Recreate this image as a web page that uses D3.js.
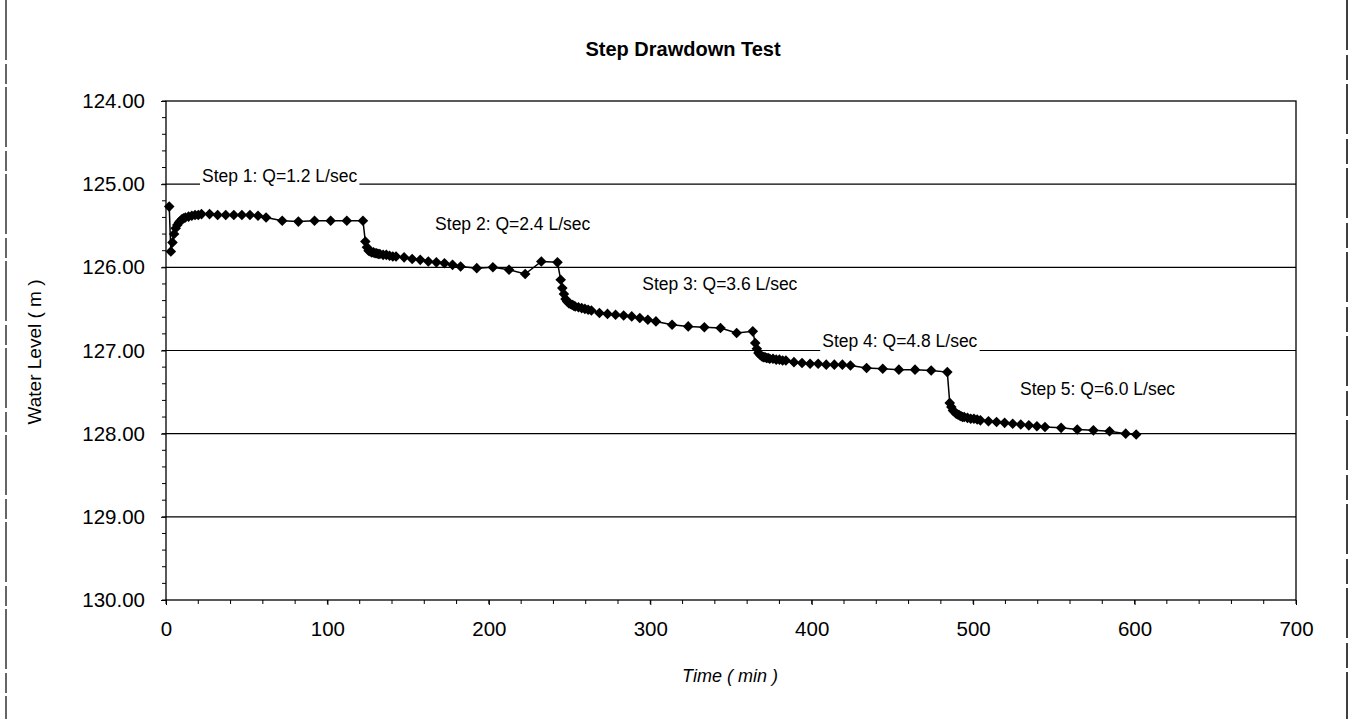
<!DOCTYPE html>
<html>
<head>
<meta charset="utf-8">
<script src="https://cdn.jsdelivr.net/npm/d3@7"></script>
<style>
  html, body { margin: 0; padding: 0; background: #fff; }
  svg { display: block; font-family: "Liberation Sans", Arial, sans-serif; }
</style>
</head>
<body>
<svg id="chart" width="1356" height="719"></svg>
<script>
// ---------------- data ----------------
const chartTitle = "Step Drawdown Test";
const xAxisTitle = "Time ( min )";
const yAxisTitle = "Water Level ( m )";

const xTickValues = [0, 100, 200, 300, 400, 500, 600, 700];
const yTickValues = [124, 125, 126, 127, 128, 129, 130];

// time (min) of each reading
const timeMin = [
  2, 3, 4, 5, 6, 7, 8, 9, 10, 11, 12, 14, 16, 18, 20, 22, 27, 32, 37, 42, 47, 52, 57, 62, 72, 82, 92, 102, 112, 122,
  123.5, 124.5, 125.5, 126.5, 127.5, 128.5, 129.5, 130.5, 131.5, 132.5, 134.5, 136.5, 138.5, 140.5, 142.5, 147.5, 152.5, 157.5, 162.5, 167.5, 172.5, 177.5, 182.5, 192.5, 202.5, 212.5, 222.5, 232.5, 242.5,
  244.5, 245.5, 246.5, 247.5, 248.5, 249.5, 250.5, 251.5, 252.5, 253.5, 255.5, 257.5, 259.5, 261.5, 263.5, 268.5, 273.5, 278.5, 283.5, 288.5, 293.5, 298.5, 303.5, 313.5, 323.5, 333.5, 343.5, 353.5, 363.5,
  365, 366, 367, 368, 369, 370, 371, 372, 373, 374, 376, 378, 380, 382, 384, 389, 394, 399, 404, 409, 414, 419, 424, 434, 444, 454, 464, 474, 484,
  485.5, 486.5, 487.5, 488.5, 489.5, 490.5, 491.5, 492.5, 493.5, 494.5, 496.5, 498.5, 500.5, 502.5, 504.5, 509.5, 514.5, 519.5, 524.5, 529.5, 534.5, 539.5, 544.5, 554.5, 564.5, 574.5, 584.5, 594.5, 601
];

// water level (m) of each reading
const waterLevel = [
  125.27, 125.81, 125.70, 125.60, 125.53, 125.49, 125.46, 125.44, 125.42, 125.41, 125.40, 125.39, 125.38, 125.37, 125.37, 125.36, 125.36, 125.37, 125.37, 125.37, 125.37, 125.37, 125.38, 125.40, 125.44, 125.45, 125.44, 125.44, 125.44, 125.44,
  125.69, 125.76, 125.80, 125.81, 125.82, 125.82, 125.83, 125.83, 125.84, 125.84, 125.85, 125.85, 125.86, 125.87, 125.87, 125.88, 125.90, 125.91, 125.93, 125.94, 125.95, 125.97, 125.99, 126.01, 126.00, 126.03, 126.08, 125.93, 125.94,
  126.15, 126.25, 126.32, 126.38, 126.41, 126.43, 126.44, 126.45, 126.46, 126.47, 126.48, 126.49, 126.50, 126.51, 126.52, 126.55, 126.56, 126.57, 126.58, 126.59, 126.61, 126.63, 126.65, 126.69, 126.71, 126.72, 126.73, 126.79, 126.77,
  126.91, 126.98, 127.03, 127.05, 127.07, 127.08, 127.08, 127.09, 127.09, 127.10, 127.10, 127.11, 127.11, 127.12, 127.12, 127.14, 127.15, 127.16, 127.16, 127.17, 127.17, 127.17, 127.18, 127.21, 127.22, 127.23, 127.23, 127.24, 127.26,
  127.63, 127.68, 127.72, 127.74, 127.76, 127.77, 127.78, 127.79, 127.80, 127.80, 127.81, 127.82, 127.82, 127.83, 127.84, 127.85, 127.86, 127.87, 127.88, 127.89, 127.90, 127.91, 127.92, 127.93, 127.95, 127.96, 127.97, 128.00, 128.01
];

// step annotations, anchored in data units (time, level of text baseline)
const stepLabels = ["Step 1: Q=1.2 L/sec", "Step 2: Q=2.4 L/sec", "Step 3: Q=3.6 L/sec", "Step 4: Q=4.8 L/sec", "Step 5: Q=6.0 L/sec"];
const stepLabelTime = [22.3, 166.7, 295, 406.5, 529];
const stepLabelLevel = [124.97, 125.55, 126.27, 126.96, 127.53];

// ---------------- layout ----------------
const svg = d3.select("#chart");
const plot = { left: 166, right: 1296, top: 101, bottom: 600 };

const x = d3.scaleLinear().domain([0, 700]).range([plot.left, plot.right]);
const y = d3.scaleLinear().domain([124, 130]).range([plot.top, plot.bottom]);

// outer scanned frame (left & right edges)
svg.append("line").attr("x1", 6).attr("x2", 6).attr("y1", 0).attr("y2", 719)
  .attr("stroke", "#000").attr("stroke-width", 1.2).attr("stroke-dasharray", "60,4,20,3");
svg.append("line").attr("x1", 1347).attr("x2", 1347).attr("y1", 0).attr("y2", 719)
  .attr("stroke", "#000").attr("stroke-width", 1.5).attr("stroke-dasharray", "50,5,25,4");

// title
svg.append("text").attr("x", 683).attr("y", 56).attr("text-anchor", "middle")
  .attr("font-size", 20).attr("font-weight", "bold").text(chartTitle);

// gridlines
svg.append("g").selectAll("line").data(yTickValues.filter(v => v > 124 && v < 130)).join("line")
  .attr("x1", plot.left).attr("x2", plot.right)
  .attr("y1", d => y(d)).attr("y2", d => y(d))
  .attr("stroke", "#000").attr("stroke-width", 1.2);

// plot frame
svg.append("rect").attr("x", plot.left).attr("y", plot.top)
  .attr("width", plot.right - plot.left).attr("height", plot.bottom - plot.top)
  .attr("fill", "none").attr("stroke", "#000").attr("stroke-width", 1.3);

// y axis
const yAxis = d3.axisLeft(y).tickValues(yTickValues).tickFormat(d3.format(".2f")).tickSize(5).tickPadding(16);
const gy = svg.append("g").attr("transform", `translate(${plot.left},0)`).call(yAxis);
gy.select(".domain").remove();
gy.selectAll("text").attr("font-size", 20.5).attr("fill", "#000").attr("font-family", "Liberation Sans, Arial, sans-serif");
gy.selectAll("line").attr("stroke", "#000");
const yMinor = d3.range(124, 130.001, 0.2);
svg.append("g").selectAll("line").data(yMinor).join("line")
  .attr("x1", plot.left - 4).attr("x2", plot.left)
  .attr("y1", d => y(d)).attr("y2", d => y(d)).attr("stroke", "#000");

// x axis
const xAxis = d3.axisBottom(x).tickValues(xTickValues).tickFormat(d3.format("d")).tickSize(5).tickPadding(16);
const gx = svg.append("g").attr("transform", `translate(0,${plot.bottom})`).call(xAxis);
gx.select(".domain").remove();
gx.selectAll("text").attr("font-size", 20.5).attr("fill", "#000").attr("font-family", "Liberation Sans, Arial, sans-serif");
gx.selectAll("line").attr("stroke", "#000");
const xMinor = d3.range(0, 701, 20);
svg.append("g").selectAll("line").data(xMinor).join("line")
  .attr("x1", d => x(d)).attr("x2", d => x(d))
  .attr("y1", plot.bottom).attr("y2", plot.bottom + 4).attr("stroke", "#000");

// axis titles
svg.append("text").attr("x", 730).attr("y", 682).attr("text-anchor", "middle")
  .attr("font-size", 18).attr("font-style", "italic").text(xAxisTitle);
svg.append("text").attr("transform", "translate(41,352) rotate(-90)").attr("text-anchor", "middle")
  .attr("font-size", 19).text(yAxisTitle);

// step labels with white background
const lab = svg.append("g");
stepLabels.forEach((s, i) => {
  const g = lab.append("g");
  const t = g.append("text").attr("x", x(stepLabelTime[i])).attr("y", y(stepLabelLevel[i]))
    .attr("font-size", 17.5).text(s);
  const bb = t.node().getBBox();
  g.insert("rect", "text").attr("x", bb.x - 2).attr("y", bb.y).attr("width", bb.width + 4).attr("height", bb.height + 2)
    .attr("fill", "#fff");
});

// data line + markers
const pts = timeMin.map((t, i) => [t, waterLevel[i]]);
svg.append("path").datum(pts)
  .attr("fill", "none").attr("stroke", "#000").attr("stroke-width", 1.5)
  .attr("d", d3.line().x(d => x(d[0])).y(d => y(d[1])));
const sym = d3.symbol().type(d3.symbolSquare).size(56);
svg.append("g").selectAll("path").data(pts).join("path")
  .attr("d", sym)
  .attr("transform", d => `translate(${x(d[0])},${y(d[1])}) rotate(45)`)
  .attr("fill", "#000");
</script>
</body>
</html>
